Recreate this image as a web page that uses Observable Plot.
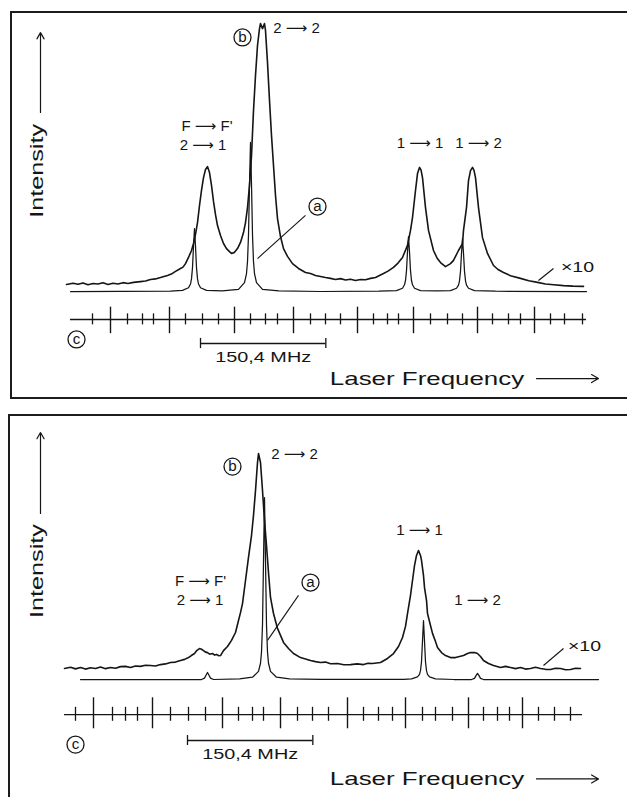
<!DOCTYPE html>
<html><head><meta charset="utf-8">
<script src="https://cdn.jsdelivr.net/npm/d3@7"></script>
<script src="https://cdn.jsdelivr.net/npm/@observablehq/plot@0.6"></script>
<style>
html,body{margin:0;padding:0;background:#fff;overflow:hidden;}
#wrap{position:relative;width:627px;height:797px;overflow:hidden;}
.panel{position:absolute;left:0;width:627px;}
.box{position:absolute;border:2px solid #1c1c1c;pointer-events:none;}
</style></head><body><div id="wrap">
<div class="panel" id="p1" style="top:0;height:400px"></div>
<div class="panel" id="p2" style="top:400px;height:397px"></div>
<div class="box" style="left:10px;top:11px;width:640px;height:384px"></div>
<div class="box" style="left:8px;top:414px;width:640px;height:420px"></div>
</div>
<script>
const FONT = "'Liberation Sans', 'DejaVu Sans', Arial, Helvetica, sans-serif";
const INK = "#151515";
const scaleMHz = 150.4;

// ===== Panel 1 (upper) : [frequency MHz, intensity a.u.] =====
const traceB1 = [[-4.8,2.6],[3,3.1],[9,2.7],[15,3.2],[21,2.5],[27,3.0],[33,2.8],[39,3.3],[45,2.6],[51,3.1],[57,2.8],[63,3.3],[69,3.0],[75.6,3.4],[84,3.7],[90,3.9],[96,4.5],[102,4.7],[108,5.2],[116.4,6.0],[121,6.5],[126,7.5],[132,8.6],[135,9.1],[138,10.4],[141.6,12.7],[145.2,15.3],[147.6,17.9],[150,21.3],[152.4,25.7],[154.8,32.1],[157.2,37.7],[159.6,42.5],[162,45.5],[164.4,46.6],[166.8,44.4],[169.2,39.6],[171.6,33.6],[174,28.7],[176.4,24.6],[180,20.9],[183.6,17.9],[187.2,16.0],[190.8,14.9],[193.2,14.2],[196.8,14.6],[200.4,16.0],[204,18.3],[207.6,22.0],[210,25.7],[212.4,31.3],[214.8,39.6],[217.2,50.7],[219.6,67.5],[222,80.6],[224.4,91.8],[226.8,98.1],[228,100],[230.4,98.1],[232.8,100],[234,97.4],[236.4,85.4],[238.8,71.3],[241.2,58.2],[243.6,47.0],[246,35.8],[248.4,27.2],[252,20.5],[255.6,16.0],[260.4,13.1],[266.4,10.4],[273.6,8.6],[282,7.1],[288,6.7],[294,6.0],[300,5.6],[306,5.2],[312,4.9],[318,4.5],[324,4.8],[330,4.3],[336,4.6],[342,4.1],[348,4.5],[354,4.4],[360,4.9],[366,5.2],[375.6,6.7],[381,7.6],[387.6,9.0],[393,10.6],[398.4,12.7],[404.4,17.2],[408,22.8],[410.4,27.6],[414,37.7],[416.4,44.0],[418.8,46.3],[420.6,45.4],[422.4,42.5],[426,31.3],[429.6,22.8],[435.6,15.3],[440,12.4],[444,10.8],[450,9.3],[456,10.4],[459.6,11.6],[465.6,15.3],[470.4,17.9],[471.6,22.8],[475.2,31.3],[477.6,41.4],[480,45.1],[482.4,46.3],[484.2,45.2],[486,42.5],[489.6,31.3],[494.4,20.1],[500.4,14.2],[507.6,9.7],[513,8.2],[519.6,7.1],[528,5.9],[540,4.9],[550,4.0],[560.4,3.4],[570,2.8],[580,2.5],[591.6,2.2],[603,2.0],[615.6,1.9]];
const traceA1 = [[0,0],[120,0.1],[134.4,0.4],[141.6,1.4],[144,2.8],[145.2,4.7],[146.4,8.9],[147.6,16.9],[148.8,23.5],[150,16.9],[151.2,8.9],[152.4,4.7],[153.6,2.8],[156,1.4],[163.2,0.4],[182,0.2],[201.6,0.8],[208.8,3.3],[211.2,6.7],[212.4,11.1],[213.6,21.1],[214.8,40.0],[216,55.6],[217.2,40.0],[218.4,21.1],[219.6,11.1],[220.8,6.7],[223.2,3.3],[230.4,0.8],[250,0.2],[300,0],[370,0.1],[391.2,0.3],[398.4,1.2],[400.8,2.5],[402,4.1],[403.2,7.8],[404.4,14.8],[405.6,20.5],[406.8,14.8],[408,7.8],[409.2,4.1],[410.4,2.5],[412.8,1.2],[420,0.3],[440,0.2],[456,0.3],[463.2,1.2],[465.6,2.4],[466.8,4.0],[468,7.5],[469.2,14.3],[470.4,19.8],[471.6,14.3],[472.8,7.5],[474,4.0],[475.2,2.4],[477.6,1.2],[484.8,0.3],[510,0.1],[619.2,0]];
const cMajor1 = [48,118.8,196.8,267.6,344.4,411.6,488.4,556.8];
const cMinor1 = [26.4,68.4,86.4,99.6,138,158.4,177.6,216,234,248.4,288,306,324,363.6,380.4,393.6,432,452.4,470.4,506.4,525.6,540,576,592.8,614.4];
const cSpan1 = [0,619.2];
const cLevel1 = -10.45;
const cAmp1 = {majorUp:4.6, majorDown:5.3, minorUp:2.1, minorDown:2.0};
const notes1 = [
  {t:"2 ⟶ 2", f:271.2, I:98.1},
  {t:"F ⟶ F'", f:163.8, I:61.6},
  {t:"2 ⟶ 1", f:159, I:54.5},
  {t:"1 ⟶ 1", f:419.4, I:55.2},
  {t:"1 ⟶ 2", f:489.6, I:55.2}
];
const circles1 = [{t:"b", f:206.4, I:94.8},{t:"a", f:296.4, I:31.7},{t:"c", f:7.2, I:-17.9}];
const leaders1 = [{f1:282, I1:28.4, f2:224.4, I2:12.3},{f1:579.6, I1:8.6, f2:561.6, I2:4.1}];
const gain1 = {t:"×10", f:608.4, I:9.0};
const bar1 = {f:156, I:-19.4, cap:1.9, textI:-24.6};
const axes1 = {yLabelF:-39.6, yLabelI:45.0, yArrowF:-36, yArrow:[66.8,96.6], xLabelF:427.8, xLabelI:-32.5, xArrow:[559.2,633.6]};

// ===== Panel 2 (lower) =====
const traceB2 = [[-7.2,4.9],[0,5.4],[6,4.7],[12,5.3],[18,4.6],[24,5.2],[30,4.9],[36,5.5],[42,4.8],[48,5.3],[54,5.0],[60,5.7],[66,5.8],[72,5.3],[78,6.0],[84,5.8],[90,6.3],[96,6.2],[102,6.0],[108,6.6],[114,6.9],[120,7.5],[126,7.7],[132,8.4],[137,8.9],[141.6,9.7],[145,10.6],[148.8,11.5],[151.8,12.9],[154.8,13.7],[157.2,13.4],[159.6,12.8],[162,12.1],[164.4,11.9],[167,11.2],[170.4,11.5],[173,10.8],[175.2,11.1],[178,10.5],[180,10.6],[183.6,12.8],[188.4,14.6],[193.2,17.3],[198,20.8],[201.6,26.1],[204,29.6],[206.4,33.6],[210,43.8],[213.6,54.0],[217.2,63.7],[219.6,72.6],[222,83.6],[224.4,96.0],[225.6,100],[228,96.0],[230.4,83.6],[232.8,70.4],[235.2,59.3],[237.6,47.3],[240,36.3],[243.6,29.2],[248.4,22.6],[255.6,16.4],[261.6,13.7],[267.6,11.5],[276,9.7],[282,9.1],[288,8.4],[294,7.9],[300,7.5],[306,7.7],[312,7.0],[320.4,7.1],[328,6.5],[336,6.6],[344,6.9],[351.6,6.6],[357,7.2],[362.4,7.1],[372,7.5],[380.4,9.3],[387.6,11.5],[393.6,14.6],[398.4,18.6],[402,23.5],[404.4,29.2],[408,37.2],[410.4,43.8],[412.8,50.4],[415.2,54.9],[417.6,57.1],[420,54.9],[421.2,52.7],[423.6,46.0],[424.8,40.7],[427.2,35.0],[428.4,29.2],[432,23.9],[434.4,20.4],[438,16.8],[440.4,14.2],[445.2,11.9],[450,10.6],[456,9.7],[462,9.7],[466.8,10.2],[471.6,10.6],[476.4,11.5],[480,11.9],[484.8,11.9],[488.4,11.5],[492,10.2],[495.6,8.4],[501.6,7.1],[507.6,6.2],[516,5.3],[522,5.8],[528,5.3],[534,4.8],[540,5.3],[546,4.6],[552,4.9],[558,5.4],[564,4.9],[570,4.5],[576,4.4],[582,5.0],[588,4.9],[594,4.3],[600,4.4],[606,5.0],[612,4.9]];
const traceA2 = [[12,0],[157.2,0],[160.8,0.6],[162.6,1.9],[164.4,3.1],[166.2,1.9],[168,0.6],[171.6,0],[202.8,0.3],[218.4,1.0],[225.6,3.6],[228,7.2],[229.2,12.1],[230.4,24.2],[231.6,52.3],[232.8,80.5],[234,52.3],[235.2,24.2],[236.4,12.1],[237.6,7.2],[240,3.6],[247.2,1.0],[262.8,0.3],[300,0.1],[400,0.1],[409.2,0.3],[416.4,1.2],[418.8,2.3],[420,3.9],[421.2,7.8],[422.4,17.0],[423.6,26.1],[424.8,17.0],[426,7.8],[427.2,3.9],[428.4,2.3],[430.8,1.2],[438,0.3],[460,0],[481.2,0],[484.8,0.5],[486.6,1.7],[488.4,2.7],[490.2,1.7],[492,0.5],[495.6,0],[633.6,0]];
const cMajor2 = [27.6,98.4,182.4,252,332.4,402,477.6,542.4];
const cMinor2 = [6,50.4,66,80.4,120,141.6,162,201.6,218.4,231.6,272.4,290.4,309.6,351.6,369.6,386.4,422.4,438,458.4,495.6,512.4,526.8,561.6,580.8,600];
const cSpan2 = [-7.2,614.4];
const cLevel2 = -15.5;
const cAmp2 = {majorUp:7.4, majorDown:6.3, minorUp:3.2, minorDown:3.0};
const notes2 = [
  {t:"2 ⟶ 2", f:268.8, I:99.6},
  {t:"F ⟶ F'", f:156, I:43.4},
  {t:"2 ⟶ 1", f:155.4, I:35.0},
  {t:"1 ⟶ 1", f:418.8, I:65.9},
  {t:"1 ⟶ 2", f:488.4, I:35.0}
];
const circles2 = [{t:"b", f:194.4, I:94.2},{t:"a", f:288, I:42.9},{t:"c", f:6, I:-28.8}];
const leaders2 = [{f1:273.6, I1:37.2, f2:236.4, I2:17.3},{f1:591.6, I1:13.7, f2:567.6, I2:6.2}];
const gain2 = {t:"×10", f:616.8, I:14.6};
const bar2 = {f:140.4, I:-27.0, cap:2.2, textI:-33.2};
const axes2 = {yLabelF:-39.6, yLabelI:48.0, yArrowF:-36, yArrow:[73.5,109.3], xLabelF:427.8, xLabelI:-44.0, xArrow:[559.2,633.6]};

function stretchText(svg) {
  svg.querySelectorAll("g[aria-description]").forEach(g => {
    const m = /^s(\d+)$/.exec(g.getAttribute("aria-description"));
    if (!m) return;
    const s = +m[1] / 100;
    g.querySelectorAll("text").forEach(t => {
      let tr = t.getAttribute("transform");
      if (!tr) {
        const x = t.getAttribute("x") || 0, y = t.getAttribute("y") || 0;
        t.removeAttribute("x"); t.removeAttribute("y");
        tr = `translate(${x},${y})`;
      }
      t.setAttribute("transform", `${tr} scale(${s},1)`);
    });
  });
}

function panel(p) {
  const X = d => d[0], Y = d => d[1];
  const txt = {fill: INK, fontFamily: FONT};
  const svg = Plot.plot({
    width: 627, height: p.height,
    marginLeft: 0, marginRight: 0, marginTop: p.mt, marginBottom: p.mb,
    x: {domain: [-84, 668.4], axis: null},
    y: {domain: [0, 100], axis: null},
    style: {background: "transparent", overflow: "visible", fontFamily: FONT},
    marks: [
      Plot.line(p.b, {x: X, y: Y, stroke: INK, strokeWidth: 1.6, strokeLinejoin: "round"}),
      Plot.line(p.a, {x: X, y: Y, stroke: INK, strokeWidth: 1.25, strokeLinejoin: "round"}),
      Plot.ruleY([p.cLevel], {y: d => d, x1: () => p.cSpan[0], x2: () => p.cSpan[1], stroke: INK, strokeWidth: 1.3}),
      Plot.ruleX(p.cMajor, {x: d => d, y1: () => p.cLevel + p.cAmp.majorUp, y2: () => p.cLevel - p.cAmp.majorDown, stroke: INK, strokeWidth: 1.4}),
      Plot.ruleX(p.cMinor, {x: d => d, y1: () => p.cLevel + p.cAmp.minorUp, y2: () => p.cLevel - p.cAmp.minorDown, stroke: INK, strokeWidth: 1.3}),
      Plot.ruleY([p.bar], {y: d => d.I, x1: d => d.f, x2: d => d.f + scaleMHz, stroke: INK, strokeWidth: 1.3}),
      Plot.ruleX([p.bar.f, p.bar.f + scaleMHz], {x: d => d, y1: () => p.bar.I + p.bar.cap, y2: () => p.bar.I - p.bar.cap, stroke: INK, strokeWidth: 1.3}),
      Plot.text([p.bar], {x: d => d.f + scaleMHz / 2, y: d => d.textI, text: () => "150,4 MHz", fontSize: 15.5, ...txt, ariaDescription: "s128"}),
      Plot.text(p.notes, {x: "f", y: "I", text: "t", fontSize: 15, ...txt, ariaDescription: "s100"}),
      Plot.text([p.gain], {x: "f", y: "I", text: "t", fontSize: 15, ...txt, ariaDescription: "s130"}),
      Plot.link(p.leaders, {x1: "f1", y1: "I1", x2: "f2", y2: "I2", stroke: INK, strokeWidth: 1.1}),
      Plot.dot(p.circles, {x: "f", y: "I", r: 8.5, stroke: INK, strokeWidth: 1.3, fill: "none"}),
      Plot.text(p.circles, {x: "f", y: "I", text: "t", fontSize: 14, ...txt, ariaDescription: "s108"}),
      Plot.text([p.axes], {x: d => d.yLabelF, y: d => d.yLabelI, text: () => "Intensity", rotate: -90, fontSize: 18, ...txt, ariaDescription: "s140"}),
      Plot.arrow([p.axes], {x1: d => d.yArrowF, x2: d => d.yArrowF, y1: d => d.yArrow[0], y2: d => d.yArrow[1], stroke: INK, strokeWidth: 1.2, headLength: 9}),
      Plot.text([p.axes], {x: d => d.xLabelF, y: d => d.xLabelI, text: () => "Laser Frequency", fontSize: 18.5, ...txt, ariaDescription: "s140"}),
      Plot.arrow([p.axes], {x1: d => d.xArrow[0], x2: d => d.xArrow[1], y1: d => d.xLabelI, y2: d => d.xLabelI, stroke: INK, strokeWidth: 1.2, headLength: 10})
    ]
  });
  stretchText(svg);
  return svg;
}

document.getElementById("p1").appendChild(panel({
  height: 400, mt: 23, mb: 109,
  b: traceB1, a: traceA1, cMajor: cMajor1, cMinor: cMinor1, cSpan: cSpan1, cLevel: cLevel1, cAmp: cAmp1,
  notes: notes1, circles: circles1, leaders: leaders1, gain: gain1, bar: bar1, axes: axes1
}));
document.getElementById("p2").appendChild(panel({
  height: 397, mt: 53, mb: 118,
  b: traceB2, a: traceA2, cMajor: cMajor2, cMinor: cMinor2, cSpan: cSpan2, cLevel: cLevel2, cAmp: cAmp2,
  notes: notes2, circles: circles2, leaders: leaders2, gain: gain2, bar: bar2, axes: axes2
}));
</script>
</body></html>
